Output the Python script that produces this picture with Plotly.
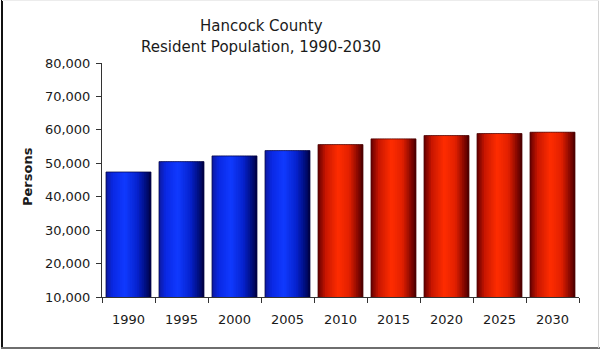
import plotly.graph_objects as go

# Resident population, Hancock County
years = ["1990", "1995", "2000", "2005", "2010", "2015", "2020", "2025", "2030"]
population = [47400, 50500, 52200, 53800, 55600, 57300, 58300, 58900, 59300]
series_kind = ["estimate"] * 4 + ["projection"] * 5

y_ticks = [10000, 20000, 30000, 40000, 50000, 60000, 70000, 80000]
y_tick_labels = ["10,000", "20,000", "30,000", "40,000", "50,000",
                 "60,000", "70,000", "80,000"]

# Horizontal shading profiles (position across the bar -> RGB) giving a cylinder look
shading = {
    "estimate": [(0.0, (14, 26, 160)), (0.15, (10, 40, 228)), (0.42, (16, 58, 255)),
                 (0.7, (6, 34, 205)), (0.9, (0, 12, 118)), (1.0, (0, 0, 66))],
    "projection": [(0.0, (100, 0, 0)), (0.17, (200, 22, 0)), (0.45, (255, 45, 0)),
                   (0.7, (225, 32, 0)), (0.9, (128, 6, 0)), (1.0, (76, 0, 0))],
}
edge_color = {"estimate": "rgba(0,0,60,0.7)", "projection": "rgba(70,0,0,0.7)"}


def shade(kind, t):
    stops = shading[kind]
    for (t0, c0), (t1, c1) in zip(stops[:-1], stops[1:]):
        if t0 <= t <= t1:
            f = (t - t0) / (t1 - t0)
            r, g, b = (round(a + (b_ - a) * f) for a, b_ in zip(c0, c1))
            return f"rgb({r},{g},{b})"
    r, g, b = stops[-1][1]
    return f"rgb({r},{g},{b})"


BAR_W = 0.85
N_SLICES = 26
step = BAR_W / N_SLICES

fig = go.Figure()
for i in range(N_SLICES):
    off = -BAR_W / 2 + i * step
    w = min(step * 1.7, BAR_W / 2 - off)
    t = (i + 0.5) / N_SLICES
    fig.add_trace(go.Bar(
        x=years, y=population,
        width=[w] * len(years), offset=[off] * len(years),
        marker=dict(color=[shade(k, t) for k in series_kind], line=dict(width=0)),
        hoverinfo="skip", showlegend=False,
    ))

# thin outline around each bar
fig.add_trace(go.Bar(
    x=years, y=population,
    width=[BAR_W] * len(years), offset=[-BAR_W / 2] * len(years),
    marker=dict(color="rgba(0,0,0,0)",
                line=dict(width=1, color=[edge_color[k] for k in series_kind])),
    hovertemplate="%{x}: %{y:,}<extra></extra>", showlegend=False,
))

# plot area: x 102..579, y 63..297 in a 600x352 page
ML, MR, MT, MB = 102, 21, 63, 55
PW, PH = 600 - ML - MR, 352 - MT - MB


def px(xp):
    return (xp - ML) / PW


def py(yp):
    return (352 - MB - yp) / PH


font_family = "DejaVu Sans"
text_color = "#1a1a1a"

fig.update_layout(
    width=600, height=352,
    margin=dict(l=ML, r=MR, t=MT, b=MB),
    paper_bgcolor="white", plot_bgcolor="white",
    barmode="overlay",
    font=dict(family=font_family, color=text_color, size=12),
    xaxis=dict(
        type="category", tickson="boundaries",
        ticks="outside", ticklen=5, tickcolor="#333", tickwidth=1,
        showline=True, linecolor="#333", linewidth=1,
        showgrid=False, zeroline=False,
        tickfont=dict(size=13, color=text_color),
        ticklabelstandoff=10,
    ),
    yaxis=dict(
        range=[10000, 80000], tickvals=y_ticks, ticktext=y_tick_labels,
        ticks="outside", ticklen=5, tickcolor="#333", tickwidth=1,
        showline=True, linecolor="#333", linewidth=1,
        showgrid=False, zeroline=False,
        tickfont=dict(size=13, color=text_color),
        ticklabelstandoff=3,
    ),
    annotations=[
        dict(text="Hancock County", x=px(261), y=py(26), xref="paper", yref="paper",
             xanchor="center", yanchor="middle", showarrow=False,
             font=dict(size=15, color=text_color)),
        dict(text="Resident Population, 1990-2030", x=px(261), y=py(47),
             xref="paper", yref="paper", xanchor="center", yanchor="middle",
             showarrow=False, font=dict(size=15, color=text_color)),
        dict(text="<b>Persons</b>", x=px(27), y=py(177), xref="paper", yref="paper",
             xanchor="center", yanchor="middle", textangle=-90, showarrow=False,
             font=dict(size=13, color=text_color)),
    ],
    shapes=[
        dict(type="line", xref="paper", yref="paper", x0=px(2), x1=px(2),
             y0=py(0), y1=py(349), line=dict(color="#111", width=2)),
        dict(type="line", xref="paper", yref="paper", x0=px(1), x1=px(600),
             y0=py(348), y1=py(348), line=dict(color="#6e6e6e", width=2)),
        dict(type="line", xref="paper", yref="paper", x0=px(598.5), x1=px(598.5),
             y0=py(0), y1=py(348), line=dict(color="#d4d4d4", width=1)),
        dict(type="line", xref="paper", yref="paper", x0=px(2), x1=px(599),
             y0=py(0.5), y1=py(0.5), line=dict(color="#ececec", width=1)),
    ],
)

fig.write_html("out.html")
